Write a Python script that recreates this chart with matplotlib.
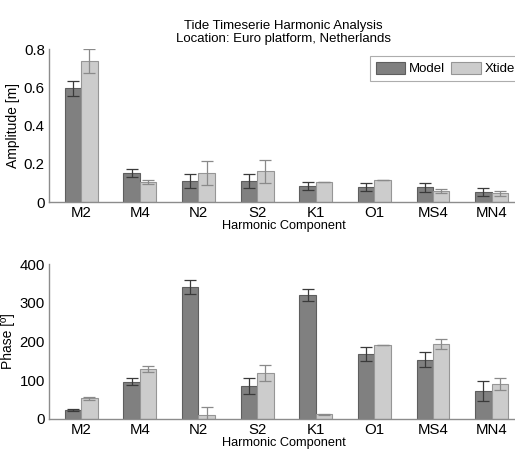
import matplotlib
matplotlib.use("Agg")
import matplotlib.pyplot as plt
import numpy as np

plt.rcParams['font.family'] = ['Liberation Sans', 'DejaVu Sans']

components = ['M2', 'M4', 'N2', 'S2', 'K1', 'O1', 'MS4', 'MN4']

amp_model = [0.595, 0.152, 0.110, 0.110, 0.084, 0.079, 0.077, 0.052]
amp_model_err = [0.040, 0.023, 0.035, 0.035, 0.022, 0.022, 0.022, 0.020]
amp_xtide = [0.737, 0.105, 0.152, 0.162, 0.103, 0.113, 0.057, 0.045]
amp_xtide_err = [0.062, 0.010, 0.064, 0.060, 0.0, 0.0, 0.012, 0.012]

ph_model = [23, 96, 341, 86, 320, 168, 153, 72]
ph_model_err = [3, 9, 18, 21, 16, 17, 20, 25]
ph_xtide = [53, 129, 10, 119, 12, 191, 194, 90]
ph_xtide_err = [5, 7, 22, 20, 1, 0, 13, 15]

DARK = '#808080'
LIGHT = '#cccccc'
EDGE = '#5e5e5e'
SPINE = '#8c8c8c'

fig = plt.figure(figsize=(5.15, 4.5), dpi=100)
ax1 = fig.add_axes([0.095, 0.551, 0.911, 0.34])
ax2 = fig.add_axes([0.095, 0.069, 0.911, 0.344])

x = np.arange(1, len(components) + 1)
w = 0.28


def bars(ax, m, me, t, te):
    ax.bar(x - w / 2, m, w, color=DARK, edgecolor=EDGE, linewidth=0.8,
           label='Model', zorder=2)
    ax.bar(x + w / 2, t, w, color=LIGHT, edgecolor='#969696', linewidth=0.8,
           label='Xtide', zorder=2)
    ax.errorbar(x - w / 2, m, yerr=me, fmt='none', ecolor='#3a3a3a',
                elinewidth=0.9, capsize=4, capthick=0.9, zorder=3)
    ax.errorbar(x + w / 2, t, yerr=te, fmt='none', ecolor='#8a8a8a',
                elinewidth=0.9, capsize=4, capthick=0.9, zorder=3)
    ax.set_xlim(0.45, 8.45)
    ax.set_xticks(x)
    ax.set_xticklabels(components)
    ax.spines['top'].set_visible(False)
    ax.spines['right'].set_visible(False)
    for s in ('left', 'bottom'):
        ax.spines[s].set_color(SPINE)
        ax.spines[s].set_linewidth(1.0)
    ax.tick_params(length=0, labelsize=10.8, pad=3)
    ax.set_xlabel('Harmonic Component', fontsize=9.2, labelpad=0)


bars(ax1, amp_model, amp_model_err, amp_xtide, amp_xtide_err)
ax1.set_ylim(0, 0.8)
ax1.set_yticks([0, 0.2, 0.4, 0.6, 0.8])
ax1.set_yticklabels(['0', '0.2', '0.4', '0.6', '0.8'])
ax1.set_ylabel('Amplitude [m]', fontsize=10, labelpad=3)
ax1.set_title('Tide Timeserie Harmonic Analysis\nLocation: Euro platform, Netherlands',
              fontsize=9.5, pad=5, linespacing=1.1)
leg = ax1.legend(loc='upper left', bbox_to_anchor=(0.684, 0.955), ncol=2,
                 fontsize=9.5, frameon=True, fancybox=False, handlelength=2.2,
                 handleheight=1.0, columnspacing=0.5, handletextpad=0.3,
                 borderpad=0.45, borderaxespad=0)
leg.get_frame().set_edgecolor('#999999')
leg.get_frame().set_linewidth(0.8)

bars(ax2, ph_model, ph_model_err, ph_xtide, ph_xtide_err)
ax2.set_ylim(0, 400)
ax2.set_yticks([0, 100, 200, 300, 400])
ax2.set_ylabel('Phase [º]', fontsize=10, labelpad=3)

fig.savefig('out.png', dpi=100)
